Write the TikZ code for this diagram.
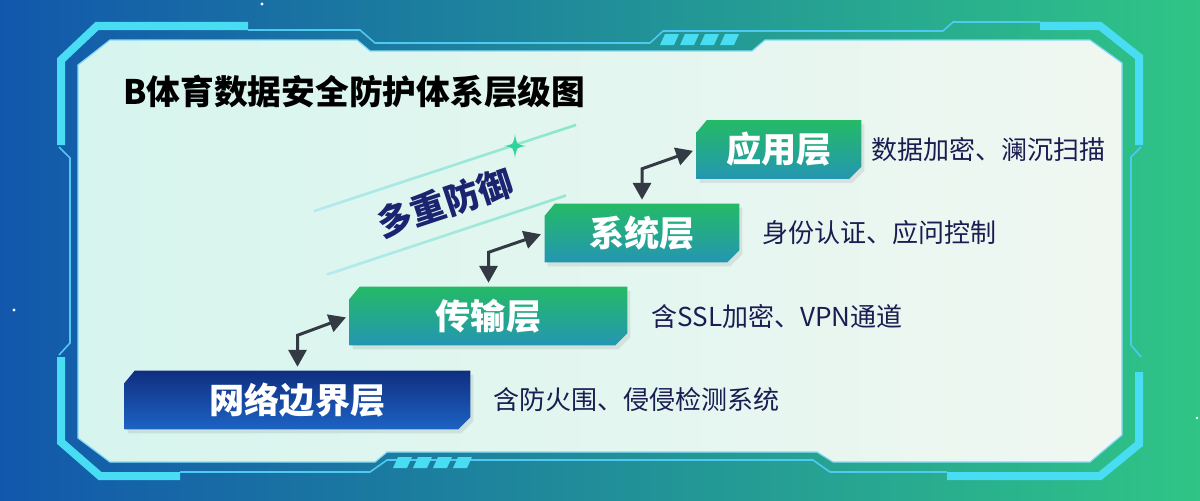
\documentclass[tikz,border=0pt]{standalone}
\usepackage{fontspec}
\setmainfont{Noto Sans CJK SC}
\usetikzlibrary{arrows.meta,positioning,calc,backgrounds}

\definecolor{deepsea}{HTML}{1257AC}
\definecolor{lagoon}{HTML}{2A8FA3}
\definecolor{meadow}{HTML}{2FC586}
\definecolor{paneleft}{HTML}{D6F5EE}
\definecolor{paneright}{HTML}{F0F7F1}
\definecolor{glow}{HTML}{48DDF3}
\definecolor{wire}{HTML}{4FC8F2}
\definecolor{inkblue}{HTML}{1B1D52}
\definecolor{mottoblue}{HTML}{1A2470}
\definecolor{navytop}{HTML}{0F2E80}
\definecolor{navybot}{HTML}{1D63C4}
\definecolor{leaftop}{HTML}{24BA66}
\definecolor{leafbot}{HTML}{2496B2}
\definecolor{arrowgray}{HTML}{333A44}
\definecolor{mint}{HTML}{2DD49E}

\tikzset{
	layer/.style={minimum height=1.45cm,inner sep=0,text=white,font=\fontsize{25}{30}\selectfont\bfseries},
	note/.style={inner sep=0,anchor=west,text=inkblue,font=\fontsize{18.5}{22}\selectfont},
	headline/.style={inner sep=0,anchor=west,text=black,font=\fontsize{24}{28}\selectfont\bfseries},
	motto/.style={inner sep=0,text=mottoblue,font=\fontsize{25}{30}\selectfont\bfseries},
	link/.style={draw=arrowgray,line width=0.075cm,{Triangle[length=0.42cm,width=0.45cm]}-{Triangle[length=0.42cm,width=0.45cm]},shorten <=0.1cm,shorten >=0.1cm},
	frame/.style={glow,line width=0.2cm},
	thinwire/.style={wire,line width=0.04cm}
}

\begin{document}
\begin{tikzpicture}[x=0.025cm,y=-0.025cm]
	\useasboundingbox (0,0) rectangle (1200,500);

	\node[headline] (title) at (123,92) {B体育数据安全防护体系层级图};

	\node[layer,minimum width=8.625cm] (b1) at (297.5,400) {网络边界层};
	\node[layer,minimum width=6.925cm] (b2) at (488.5,316) {传输层};
	\node[layer,minimum width=4.85cm] (b3) at (642,233) {系统层};
	\node[layer,minimum width=4.1cm] (b4) at (779,149.5) {应用层};

	\node[note,right=0.575cm of b1] (n1) {含防火围、侵侵检测系统};
	\node[note,right=0.6cm of b2] (n2) {含SSL加密、VPN通道};
	\node[note,right=0.575cm of b3] (n3) {身份认证、应问控制};
	\node[note,right=0.25cm of b4] (n4) {数据加密、澜沉扫描};

	\node[motto,rotate=18.3] (motto) at (445,203) {多重防御};

	\foreach \lo/\hi in {b1/b2,b2/b3,b3/b4}
		\draw[link] (\lo.north) -- ($(\lo.north |- \hi.south)+(0,-10)$) -- (\hi.west);

	\begin{scope}[on background layer]
		\shade[left color=deepsea,middle color=lagoon,right color=meadow] (0,0) rectangle (1200,500);
		\fill[white] (262,4) circle (0.04cm) (14,310) circle (0.04cm) (1197,418) circle (0.035cm);

		\shade[left color=paneleft,right color=paneright,draw=wire!70,line width=0.03cm] (110,40) -- (357,40) -- (370,51) -- (752,51) -- (765,40) -- (1090,40) -- (1122,63) -- (1122,435) -- (1090,462) -- (833,462) -- (817,452) -- (387,452) -- (375,462) -- (110,462) -- (78,438) -- (78,65) -- cycle;

		\draw[frame] (61,145) -- (61,60) -- (97,26) -- (248,26);
		\draw[frame] (1040,26) -- (1100,26) -- (1139,57) -- (1139,145);
		\draw[frame] (61,357) -- (61,442) -- (100,476) -- (180,476);
		\draw[frame] (947,476) -- (1100,476) -- (1139,444) -- (1139,372);
		\draw[thinwire] (248,30) -- (360,30) -- (375,43) -- (650,43) -- (663,31) -- (943,31) -- (953,22) -- (1040,22);
		\draw[thinwire] (59,147) -- (70,158) -- (70,343) -- (59,355);
		\draw[thinwire] (1141,147) -- (1131,157) -- (1131,345) -- (1141,357);
		\draw[thinwire] (180,472) -- (370,472) -- (387,460) -- (813,460) -- (830,472) -- (947,472);
		\foreach \i in {0,1,2,3} {
			\fill[glow] (660+\i*20+5,34) -- (660+\i*20+19,34) -- (660+\i*20+14,45) -- (660+\i*20,45) -- cycle;
			\fill[glow] (393+\i*20+5,457) -- (393+\i*20+19,457) -- (393+\i*20+14,468) -- (393+\i*20,468) -- cycle;
		}

		\begin{scope}[shift={(445,168)},rotate=18.2]
			\shade[left color=wire!25!paneleft,middle color=mint,right color=mint!45!paneleft] (-138,-1.3) rectangle (138,1.3);
		\end{scope}
		\begin{scope}[shift={(446.5,235)},rotate=18.3]
			\shade[left color=wire!25!paneleft,middle color=mint,right color=mint!40!paneleft] (-126,-1.3) rectangle (126,1.3);
		\end{scope}
		\fill[mint] (515,134) .. controls (516.5,144.5) .. (526,146) .. controls (516.5,147.5) .. (515,158) .. controls (513.5,147.5) .. (504,146) .. controls (513.5,144.5) .. (515,134);

		\foreach \n/\tc/\bc in {b1/navytop/navybot,b2/leaftop/leafbot,b3/leaftop/leafbot,b4/leaftop/leafbot} {
			\fill[black,opacity=0.08] ($(\n.north west)+(3,16)$) -- ($(\n.north west)+(13,4)$) -- ($(\n.north east)+(3,4)$) -- ($(\n.south east)+(3,-8)$) -- ($(\n.south east)+(-9,4)$) -- ($(\n.south west)+(3,4)$) -- cycle;
			\shade[top color=\tc,bottom color=\bc] ($(\n.north west)+(0,12)$) -- ($(\n.north west)+(10,0)$) -- (\n.north east) -- ($(\n.south east)+(0,-12)$) -- ($(\n.south east)+(-12,0)$) -- (\n.south west) -- cycle;
		}
	\end{scope}
\end{tikzpicture}
\end{document}
